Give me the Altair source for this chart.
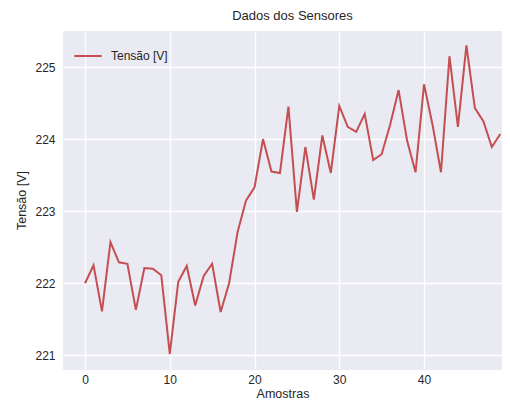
import altair as alt
import pandas as pd

amostras = list(range(50))
tensao = [222.0, 222.25, 221.61, 222.57, 222.29, 222.27, 221.63, 222.21, 222.2, 222.11,
          221.02, 222.02, 222.24, 221.69, 222.1, 222.27, 221.6, 222.0, 222.71, 223.15,
          223.33, 224.0, 223.55, 223.53, 224.45, 222.99, 223.89, 223.16, 224.05, 223.53,
          224.46, 224.17, 224.1, 224.35, 223.71, 223.79, 224.2, 224.68, 223.98, 223.54,
          224.76, 224.2, 223.54, 225.15, 224.17, 225.3, 224.43, 224.25, 223.89, 224.07]
serie = ["Tensão [V]"] * len(amostras)
x_ticks = [0, 10, 20, 30, 40, 50]
y_ticks = [221, 222, 223, 224, 225]

df = pd.DataFrame({"amostra": amostras, "tensao": tensao, "serie": serie})

FONT = "Liberation Sans"
TXT = "#262626"

chart = alt.Chart(df).mark_line(strokeWidth=2).encode(
    x=alt.X("amostra:Q",
            scale=alt.Scale(domain=[-2.6, 49.2], nice=False, zero=False),
            axis=alt.Axis(values=x_ticks, title="Amostras", labelPadding=5, titlePadding=2)),
    y=alt.Y("tensao:Q",
            scale=alt.Scale(domain=[220.81, 225.5], nice=False, zero=False),
            axis=alt.Axis(values=y_ticks, title="Tensão [V]", labelPadding=8, titlePadding=6)),
    color=alt.Color("serie:N",
                    scale=alt.Scale(range=["#C44E52"]),
                    legend=alt.Legend(title=None, orient="none", legendX=10, legendY=10,
                                      symbolType="stroke", symbolSize=750, symbolStrokeWidth=2,
                                      labelFont=FONT, labelFontSize=12, labelColor=TXT,
                                      labelOffset=8, padding=0)),
).properties(
    width=439,
    height=338,
    title=alt.TitleParams("Dados dos Sensores", font=FONT, fontSize=13, fontWeight="normal",
                          color=TXT, offset=8, dx=10),
    autosize=alt.AutoSizeParams(type="none"),
    padding={"left": 55, "top": 23, "right": 0, "bottom": 33},
).configure_view(
    fill="#EAEAF2", stroke="#EAEAF2"
).configure_axis(
    grid=True, gridColor="white", gridWidth=1.3, ticks=False, domain=False,
    labelFont=FONT, labelFontSize=12, labelColor=TXT,
    titleFont=FONT, titleFontSize=12.5, titleFontWeight="normal", titleColor=TXT,
)

chart.save("out.html", embed_options={"renderer": "svg", "actions": False})
